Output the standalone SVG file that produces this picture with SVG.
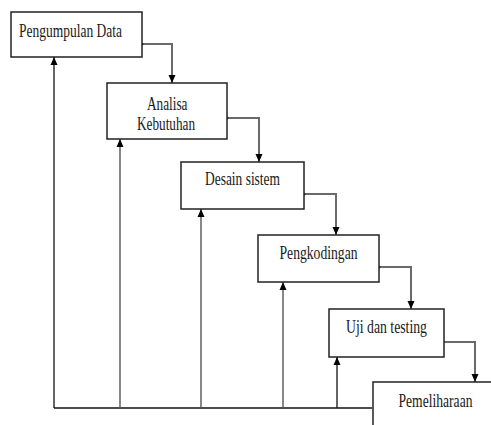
<svg xmlns="http://www.w3.org/2000/svg" width="491" height="425" viewBox="0 0 491 425">
<style>
.box{fill:#fff;stroke:#222;stroke-width:1.5}
.t{font-family:"Liberation Serif","Times New Roman",serif;font-size:18px;fill:#1a1a1a}
.flow{fill:none;stroke:#6a6a6a;stroke-width:2}
.fb{fill:none;stroke:#111;stroke-width:1.3}
.fbg{fill:none;stroke:#555;stroke-width:1.4}
</style>
<defs>
<marker id="ah" viewBox="0 0 8 8" refX="8" refY="4" markerWidth="8" markerHeight="8" markerUnits="userSpaceOnUse" orient="auto">
<path d="M0,0.5 L8,4 L0,7.5 Z" fill="#000"/>
</marker>
<marker id="dot" viewBox="0 0 4 4" refX="2" refY="2" markerWidth="3" markerHeight="3" markerUnits="userSpaceOnUse">
<circle cx="2" cy="2" r="2" fill="#333"/>
</marker>
</defs>
<g id="connectors">
<path class="flow" d="M142,44 H172 V83" marker-start="url(#dot)" marker-end="url(#ah)"/>
<path class="flow" d="M227,118 H259 V162" marker-start="url(#dot)" marker-end="url(#ah)"/>
<path class="flow" d="M304,194 H336 V235" marker-start="url(#dot)" marker-end="url(#ah)"/>
<path class="flow" d="M379,267 H411 V309" marker-start="url(#dot)" marker-end="url(#ah)"/>
<path class="flow" d="M444,342 H475 V382" marker-end="url(#ah)"/>
<path class="fb" d="M372,408 H54"/>
<path class="fb" d="M54,408 V57" marker-end="url(#ah)"/>
<path class="fbg" d="M120,408 V139" marker-end="url(#ah)"/>
<path class="fbg" d="M201,408 V209" marker-end="url(#ah)"/>
<path class="fbg" d="M283,408 V282" marker-end="url(#ah)"/>
<path class="fb" d="M337,408 V357" marker-end="url(#ah)"/>
</g>
<g id="n1">
<rect class="box" x="11" y="12" width="131" height="45"/>
<text class="t" x="19" y="37" textLength="103" lengthAdjust="spacingAndGlyphs">Pengumpulan Data</text>
</g>
<g id="n2">
<rect class="box" x="107" y="83" width="120" height="56"/>
<text class="t" x="147" y="110" textLength="40.5" lengthAdjust="spacingAndGlyphs">Analisa</text>
<text class="t" x="137" y="130" textLength="58" lengthAdjust="spacingAndGlyphs">Kebutuhan</text>
</g>
<g id="n3">
<rect class="box" x="181" y="162" width="123" height="47"/>
<text class="t" x="205" y="185" textLength="75" lengthAdjust="spacingAndGlyphs">Desain sistem</text>
</g>
<g id="n4">
<rect class="box" x="258" y="235" width="121" height="47"/>
<text class="t" x="279.5" y="259" textLength="78" lengthAdjust="spacingAndGlyphs">Pengkodingan</text>
</g>
<g id="n5">
<rect class="box" x="329" y="309" width="115" height="48"/>
<text class="t" x="346" y="333" textLength="81" lengthAdjust="spacingAndGlyphs">Uji dan testing</text>
</g>
<g id="n6">
<rect class="box" x="373" y="382" width="140" height="60"/>
<text class="t" x="398.5" y="407" textLength="74" lengthAdjust="spacingAndGlyphs">Pemeliharaan</text>
</g>
</svg>
